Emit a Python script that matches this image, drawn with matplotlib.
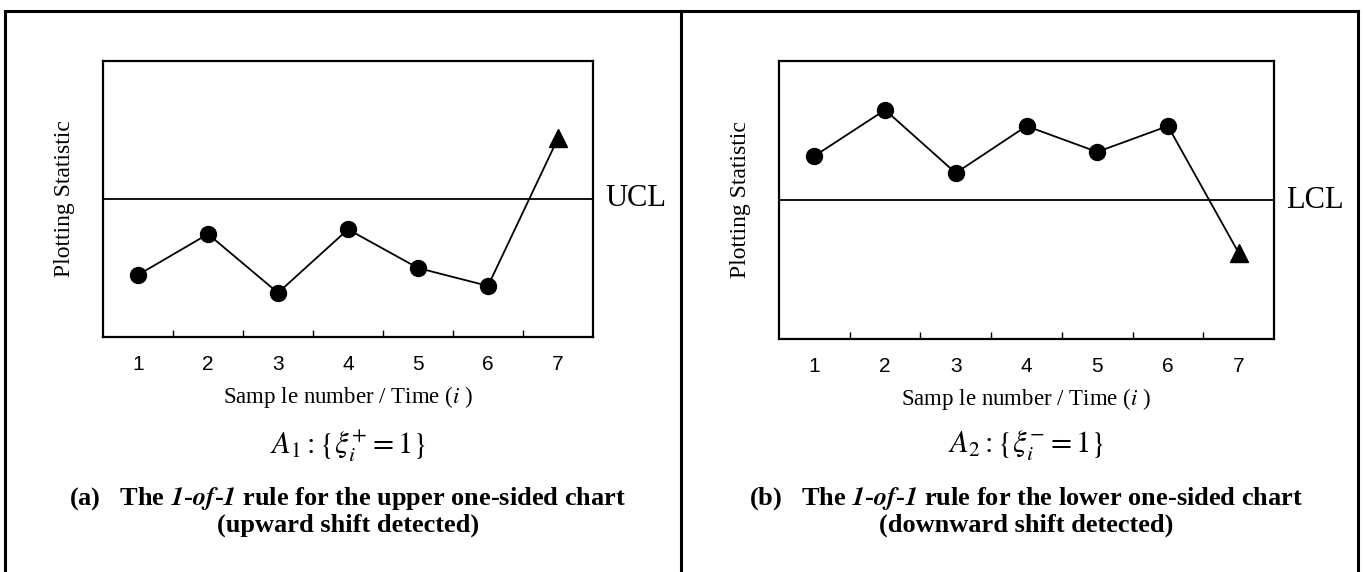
import numpy as np
import matplotlib
matplotlib.use("Agg")
import matplotlib.pyplot as plt
from matplotlib.lines import Line2D

plt.rcParams["mathtext.fontset"] = "stix"

SAMPLES = [1, 2, 3, 4, 5, 6, 7]
UPPER_STAT = [2.25, 3.73, 1.60, 3.90, 2.50, 1.85, 7.20]
LOWER_STAT = [6.58, 8.24, 5.97, 7.66, 6.73, 7.66, 3.10]
UCL = 5.0
LCL = 5.0

SERIF = "Liberation Serif"
SANS = "Liberation Sans"

W, H = 1364, 572


def fx(px):
    return px / W


def fy(py):
    return 1 - py / H


def chart_panel(fig, box, stats, limit, limit_label, formula, caption):
    x0, x1, y0, y1 = box
    ax = fig.add_axes([fx(x0), fy(y1), fx(x1) - fx(x0), fy(y0) - fy(y1)])
    ax.plot(SAMPLES[:-1], stats[:-1], color="black", lw=1.3,
            marker="o", ms=11.5, mfc="black", mec="black")
    # last sample is the out-of-control signal
    ax.plot(SAMPLES[-2:], stats[-2:], color="black", lw=1.3)
    ax.plot(SAMPLES[-1], stats[-1], marker="^", ms=12.5, color="black",
            ls="none")
    ax.axhline(limit, color="black", lw=1.3)

    ax.set_xlim(0.5, 7.5)
    ax.set_ylim(0, 10)
    ax.set_yticks([])
    ax.set_xticks(SAMPLES)
    ax.set_xticks(np.arange(1.5, 7.5, 1), minor=True)
    ax.tick_params(axis="x", which="major", length=0, pad=13,
                   labelsize=15)
    ax.tick_params(axis="x", which="minor", direction="in", length=5,
                   width=1)
    for lab in ax.get_xticklabels():
        lab.set_family(SANS)
    for s in ax.spines.values():
        s.set_linewidth(1.6)

    ax.set_ylabel("Plotting Statistic", family=SERIF, fontsize=17,
                  labelpad=20)
    ax.set_xlabel("Samp le number / Time ($\\it{i}$ )", family=SERIF,
                  fontsize=16.5, labelpad=7)

    ax.text(1.025, limit / 10, limit_label, transform=ax.transAxes,
            family=SERIF, fontsize=22, va="center", ha="left")

    cx = (x0 + x1) / 2
    fig.text(fx(cx), fy(446), formula, fontsize=22, ha="center",
             va="center")
    for line, ypos in zip(caption, (499, 525)):
        fig.text(fx(cx), fy(ypos), line, family=SERIF, fontsize=19,
                 fontweight="bold", ha="center", va="center")
    return ax


def main():
    fig = plt.figure(figsize=(W / 100, H / 100), dpi=100)

    # frame around the two panels
    for xs, ys in [([5, 1358], [11, 11]), ([5, 5], [11, H]),
                   ([681, 681], [11, H]), ([1358, 1358], [11, H])]:
        fig.add_artist(Line2D([fx(x) for x in xs], [fy(y) for y in ys],
                              color="black", lw=2.2))

    rule = r"$\mathbfit{1}$-$\mathbfit{of}$-$\mathbfit{1}$"
    chart_panel(fig, (103, 593, 61, 337), UPPER_STAT, UCL, "UCL",
                r"$A_1:\{\xi_i^{+}=1\}$",
                [f"(a)   The {rule} rule for the upper one-sided chart",
                 "(upward shift detected)"])
    chart_panel(fig, (779, 1274, 61, 339), LOWER_STAT, LCL, "LCL",
                r"$A_2:\{\xi_i^{-}=1\}$",
                [f"(b)   The {rule} rule for the lower one-sided chart",
                 "(downward shift detected)"])

    fig.savefig("out.png", dpi=100)
    plt.close(fig)


if __name__ == "__main__":
    main()
